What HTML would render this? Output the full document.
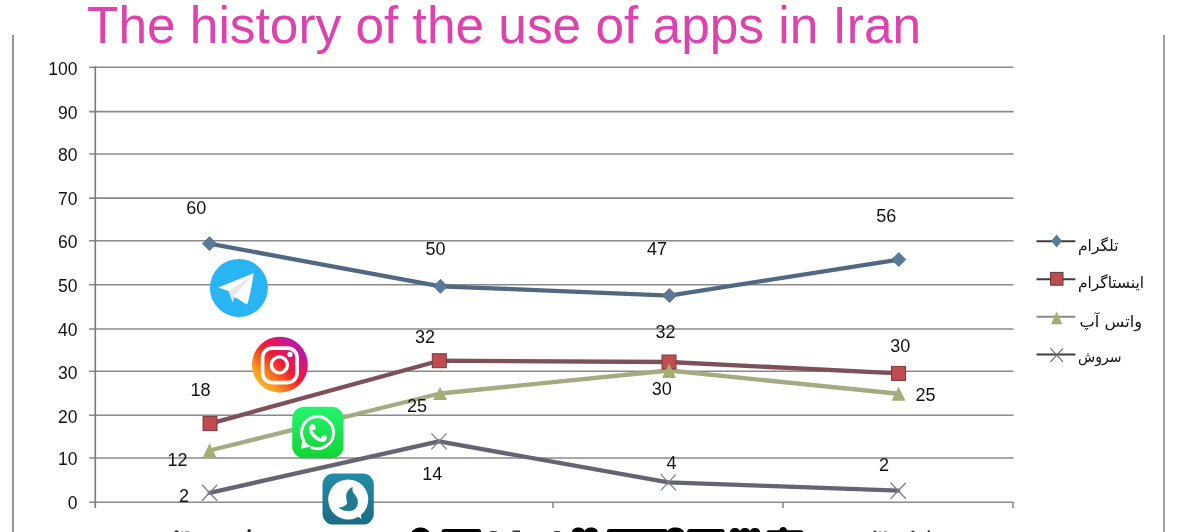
<!DOCTYPE html>
<html>
<head>
<meta charset="utf-8">
<style>
html,body{margin:0;padding:0;background:#fff;width:1198px;height:532px;overflow:hidden}
svg{position:absolute;left:0;top:0;display:block;filter:blur(0.35px)}
.t{font-family:"Liberation Sans",Arial,sans-serif;font-size:17.5px;fill:#111}
.d{font-size:18px}
.fa{font-family:"DejaVu Sans","Liberation Sans",sans-serif;font-size:15.5px;fill:#111}
</style>
</head>
<body>
<svg width="1198" height="532" viewBox="0 0 1198 532">
  <!-- frame lines -->
  <rect x="12" y="35" width="2" height="497" fill="#959595"/>
  <rect x="1163" y="35" width="2" height="497" fill="#a0a0a0"/>

  <!-- title -->
  <text x="87" y="42.6" font-family="Liberation Sans, Arial, sans-serif" font-size="51.4" fill="#de42ac">The history of the use of apps in Iran</text>

  <!-- grid -->
  <g stroke="#8a8a8a" stroke-width="1.6" fill="none">
    <line x1="89" y1="67.3" x2="1013.5" y2="67.3"/>
    <line x1="89" y1="111.6" x2="1013.5" y2="111.6"/>
    <line x1="89" y1="154.0" x2="1013.5" y2="154.0"/>
    <line x1="89" y1="198.1" x2="1013.5" y2="198.1"/>
    <line x1="89" y1="240.7" x2="1013.5" y2="240.7"/>
    <line x1="89" y1="284.8" x2="1013.5" y2="284.8"/>
    <line x1="89" y1="329.0" x2="1013.5" y2="329.0"/>
    <line x1="89" y1="371.3" x2="1013.5" y2="371.3"/>
    <line x1="89" y1="415.3" x2="1013.5" y2="415.3"/>
    <line x1="89" y1="458.0" x2="1013.5" y2="458.0"/>
    <line x1="89" y1="502.2" x2="1013.5" y2="502.2"/>
    <line x1="95.3" y1="66.5" x2="95.3" y2="508" stroke="#7a7a7a"/>
    <line x1="324.5" y1="502" x2="324.5" y2="508"/>
    <line x1="553" y1="502" x2="553" y2="508"/>
    <line x1="783" y1="502" x2="783" y2="508"/>
    <line x1="1013" y1="502" x2="1013" y2="508"/>
  </g>

  <!-- y axis labels -->
  <g class="t" text-anchor="end">
    <text x="77.5" y="74.6">100</text>
    <text x="77.5" y="118.9">90</text>
    <text x="77.5" y="161.2">80</text>
    <text x="77.5" y="205.3">70</text>
    <text x="77.5" y="247.9">60</text>
    <text x="77.5" y="292.0">50</text>
    <text x="77.5" y="336.2">40</text>
    <text x="77.5" y="378.5">30</text>
    <text x="77.5" y="422.5">20</text>
    <text x="77.5" y="465.2">10</text>
    <text x="77.5" y="509.2">0</text>
  </g>

  <!-- series lines -->
  <g fill="none" stroke-linejoin="round" stroke-linecap="round">
    <polyline points="209.5,243.7 440.5,286.3 669.4,295.6 898.8,259.6" stroke="#516880" stroke-width="4.3"/>
    <polyline points="210,423.6 439.3,360.7 669,362 898.5,373.4" stroke="#7d505a" stroke-width="4.3"/>
    <polyline points="209.6,450.5 440,393.5 669,370.5 898.6,393.75" stroke="#a5aa82" stroke-width="4.3"/>
    <polyline points="209.6,492.8 439,441.4 668.4,482.4 898.2,490.7" stroke="#646473" stroke-width="4.3"/>
  </g>

  <!-- markers: telegram diamonds -->
  <g fill="#5a7a99" stroke="#4d6a86" stroke-width="0.8">
    <path d="M209.5,236.7 L216.5,243.7 L209.5,250.7 L202.5,243.7Z"/>
    <path d="M440.5,279.3 L447.5,286.3 L440.5,293.3 L433.5,286.3Z"/>
    <path d="M669.4,288.6 L676.4,295.6 L669.4,302.6 L662.4,295.6Z"/>
    <path d="M898.8,252.6 L905.8,259.6 L898.8,266.6 L891.8,259.6Z"/>
  </g>
  <!-- instagram squares -->
  <g fill="#c04b50" stroke="#7a3a3e" stroke-width="1">
    <rect x="203" y="416.6" width="14" height="14"/>
    <rect x="432.3" y="353.7" width="14" height="14"/>
    <rect x="662" y="355" width="14" height="14"/>
    <rect x="891.5" y="366.4" width="14" height="14"/>
  </g>
  <!-- whatsapp triangles -->
  <g fill="#a3ad74">
    <path d="M209.6,443.2 L216.6,457.8 L202.6,457.8Z"/>
    <path d="M440,387 L447,400 L433,400Z"/>
    <path d="M669,363.2 L676,377.9 L662,377.9Z"/>
    <path d="M898.6,386.7 L905.6,400.8 L891.6,400.8Z"/>
  </g>
  <!-- soroush X -->
  <g stroke="#7e7e8c" stroke-width="1.3" fill="none">
    <path d="M202,484.8 L217.2,500.8 M217.2,484.8 L202,500.8"/>
    <path d="M431.4,433.4 L446.6,449.4 M446.6,433.4 L431.4,449.4"/>
    <path d="M660.8,474.4 L676,490.4 M676,474.4 L660.8,490.4"/>
    <path d="M890.6,482.7 L905.8,498.7 M905.8,482.7 L890.6,498.7"/>
  </g>

  <!-- data labels -->
  <g class="t d" text-anchor="middle">
    <text x="196.2" y="213.9">60</text>
    <text x="435.5" y="254.9">50</text>
    <text x="656.9" y="254.9">47</text>
    <text x="886.3" y="221.9">56</text>
    <text x="200.5" y="396.4">18</text>
    <text x="425" y="342.9">32</text>
    <text x="665.5" y="338.2">32</text>
    <text x="900.3" y="352.4">30</text>
    <text x="177.6" y="465.7">12</text>
    <text x="416.9" y="412.3">25</text>
    <text x="661.7" y="394.5">30</text>
    <text x="925.5" y="401.2">25</text>
    <text x="184" y="502.3">2</text>
    <text x="432.2" y="479.7">14</text>
    <text x="671.5" y="468.8">4</text>
    <text x="884.1" y="470.5">2</text>
  </g>

  <!-- icons -->
  <defs>
    <linearGradient id="ig" x1="0.05" y1="0.95" x2="0.95" y2="0.05">
      <stop offset="0" stop-color="#fcd030"/>
      <stop offset="0.22" stop-color="#f99a22"/>
      <stop offset="0.38" stop-color="#f4561f"/>
      <stop offset="0.52" stop-color="#f01a33"/>
      <stop offset="0.66" stop-color="#e3165c"/>
      <stop offset="0.82" stop-color="#c4179a"/>
      <stop offset="1" stop-color="#9a20c0"/>
    </linearGradient>
    <linearGradient id="wa" x1="0" y1="0" x2="0" y2="1">
      <stop offset="0" stop-color="#24f56e"/>
      <stop offset="1" stop-color="#12d436"/>
    </linearGradient>
    <linearGradient id="so" x1="0" y1="0" x2="0" y2="1">
      <stop offset="0" stop-color="#238ca9"/>
      <stop offset="1" stop-color="#1b6c83"/>
    </linearGradient>
  </defs>
  <!-- telegram -->
  <circle cx="238.9" cy="287.9" r="29" fill="#29b4f4"/>
  <path d="M218.1,287.5 L253.5,273.3 C252.6,282 250.2,295 247.3,304.5 C243.5,302.5 239,299.5 234.6,297.2 L228.5,290.9 Z" fill="#ffffff"/>
  <path d="M228.5,290.9 L251.5,276.2 L234.6,295.5 Z" fill="#e6e8ea"/>
  <path d="M228.5,290.9 L232.5,302.4 L234.8,297.3 Z" fill="#cde8f6"/>
  <!-- instagram -->
  <circle cx="279.9" cy="364.7" r="28" fill="url(#ig)"/>
  <rect x="262.6" y="348.1" width="34.5" height="34.5" rx="9.5" fill="none" stroke="#fff" stroke-width="3.6"/>
  <circle cx="279.4" cy="364.9" r="8" fill="none" stroke="#fff" stroke-width="3.4"/>
  <circle cx="290" cy="354.4" r="2.6" fill="#fff"/>
  <!-- whatsapp -->
  <rect x="292.2" y="406.8" width="51.4" height="51.4" rx="12" fill="url(#wa)"/>
  <path d="M304.2,441.5 A16,16 0 1 1 310.5,447" fill="none" stroke="#fff" stroke-width="3"/>
  <path d="M303.3,440 L301.7,447.7 L310,446" fill="#fff" stroke="#fff" stroke-width="1.4" stroke-linejoin="round"/>
  <path d="M312.3,425.8 C310.3,427.3 310.1,429.8 311.6,432.6 C313.6,436 316.6,438.6 320.3,440 C322.6,440.8 324.3,440 325,438.3" fill="none" stroke="#fff" stroke-width="3.4" stroke-linecap="round"/>
  <ellipse cx="312.9" cy="427" rx="2.5" ry="3.1" transform="rotate(-30 312.9 427)" fill="#fff"/>
  <ellipse cx="323.9" cy="438" rx="3.1" ry="2.4" transform="rotate(-30 323.9 438)" fill="#fff"/>
  <!-- soroush -->
  <rect x="322.5" y="473.6" width="51.3" height="51" rx="11" fill="url(#so)"/>
  <circle cx="348.2" cy="499.5" r="20" fill="#fff"/>
  <path d="M354,514 L361.5,518.9 L360,509 Z" fill="#fff"/>
  <path d="M352.9,486.8 C349,488.5 346.5,492 346.2,496 C346,499.5 347.2,501.5 347,503.5 C346.5,505.5 342,507.3 338.4,507.8 C341,510 345,511.2 350,511 C355,510.6 358.2,506.5 357.9,501.5 C357.6,497 354.5,494.5 353,492 C352.2,490.5 352.3,488.3 352.9,486.8 Z" fill="#1f7a92"/>

  <!-- bottom cut-off text fragments -->
  <g fill="#000">
    <path d="M411.5,532 C413,530 416,527.6 420.5,527.6 C425,527.6 428,530 429.2,532 Z"/>
    <rect x="441.7" y="528.9" width="39.3" height="8" rx="2.5"/>
    <rect x="490.2" y="531" width="6.5" height="3" fill="#444"/>
    <rect x="512.5" y="530.5" width="7.5" height="3" fill="#333"/>
    <rect x="554.1" y="531" width="6" height="3" fill="#444"/>
    <path d="M572.1,532 C572.1,529 575,527.5 578.5,527.5 C582,527.5 584.5,529 585,532 Z"/>
    <path d="M584.8,532 C584.8,529 587.5,527.5 591,527.5 C594.5,527.5 597.7,529 597.7,532 Z"/>
    <rect x="607" y="529" width="60.5" height="8" rx="2.5"/>
    <path d="M667,532 C668,529.5 671,527.5 675.5,527.5 C680,527.5 683,529.5 684.2,532 Z"/>
    <rect x="687.2" y="529" width="37.3" height="8" rx="2.5"/>
    <path d="M730,532 C730,529.5 732.5,528 735,528 C737.5,528 740,529.5 740,532 Z"/>
    <path d="M740,532 C740,529.5 742.5,528 745,528 C747.5,528 750,529.5 750,532 Z"/>
    <path d="M750,532 C750,529.5 752.5,528 755,528 C757.5,528 760,529.5 760,532 Z"/>
    <rect x="766.6" y="530.3" width="36.6" height="8" rx="2"/>
    <path d="M778.5,532 C779,529 781,527 783.2,527 C785.5,527 787.2,529 787.5,532 Z"/>
  </g>
  <g fill="#222">
    <rect x="174.6" y="530.6" width="3.8" height="3" rx="1.2"/>
    <rect x="181.3" y="531.4" width="1.8" height="2" fill="#666"/>
    <rect x="185" y="531.4" width="4.2" height="2" fill="#666"/>
    <rect x="247.6" y="529.3" width="3" height="4" rx="1"/>
    <rect x="873.4" y="530.8" width="3" height="3" rx="1"/>
    <rect x="879.2" y="531.4" width="1.8" height="2" fill="#666"/>
    <rect x="883.8" y="531.4" width="3.2" height="2" fill="#666"/>
    <rect x="911.3" y="530.8" width="3.2" height="3" rx="1"/>
    <rect x="927.6" y="530.3" width="2.2" height="3" rx="1"/>
  </g>

  <!-- legend -->
  <g stroke-width="2">
    <line x1="1036.5" y1="241.3" x2="1075.4" y2="241.3" stroke="#3c3c3c"/>
    <line x1="1036.5" y1="279.2" x2="1075.4" y2="279.2" stroke="#3c3c3c"/>
    <line x1="1036.5" y1="316.8" x2="1075.4" y2="316.8" stroke="#8a8a8a"/>
    <line x1="1036.5" y1="354.4" x2="1075.4" y2="354.4" stroke="#3c3c3c"/>
  </g>
  <path d="M1056.6,234.4 L1062,240.9 L1056.6,247.4 L1051.2,240.9Z" fill="#5a7a99"/>
  <rect x="1050.6" y="272.4" width="12.4" height="12.8" fill="#c04b50" stroke="#5a3a3a" stroke-width="1"/>
  <path d="M1056.6,311.5 L1062.3,324.3 L1051,324.3Z" fill="#a3ad74"/>
  <path d="M1050.5,348.4 L1063,361.9 M1063,348.4 L1050.5,361.9" stroke="#6a6a78" stroke-width="1.2"/>
  <g class="fa" text-anchor="start">
    <text x="1078" y="250.5" textLength="40.5" lengthAdjust="spacingAndGlyphs">تلگرام</text>
    <text x="1078" y="288" textLength="66" lengthAdjust="spacingAndGlyphs">اینستاگرام</text>
    <text x="1079.6" y="327" textLength="62.4" lengthAdjust="spacingAndGlyphs">واتس آپ</text>
    <text x="1078" y="362" textLength="43.5" lengthAdjust="spacingAndGlyphs">سروش</text>
  </g>
</svg>
</body>
</html>
